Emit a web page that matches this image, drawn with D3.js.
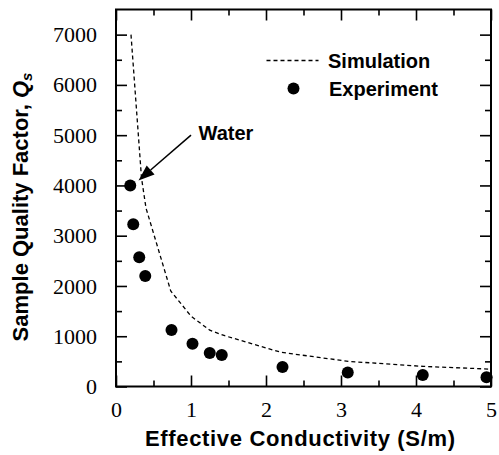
<!DOCTYPE html>
<html>
<head>
<meta charset="utf-8">
<script src="https://cdn.jsdelivr.net/npm/d3@7"></script>
<style>
  body { margin: 0; background: #fff; }
  .tick text { font-family: "Liberation Serif", "Times New Roman", serif; font-size: 22px; fill: #000; }
  .title { font-family: "Liberation Sans", Arial, sans-serif; font-weight: bold; fill: #000; }
</style>
</head>
<body>
<div id="chart"></div>
<script>
// experiment points
var expX = [0.19, 0.23, 0.31, 0.39, 0.74, 1.02, 1.25, 1.41, 2.22, 3.09, 4.09, 4.94];
var expQ = [4000, 3230, 2570, 2200, 1125, 850, 665, 625, 390, 280, 230, 185];

// simulation curve
var simX = [0.2, 0.34, 0.40, 0.73, 1.0, 1.25, 1.45, 2.2, 3.1, 4.1, 5.0];
var simQ = [7000, 4150, 3550, 1900, 1400, 1120, 1010, 680, 500, 400, 345];

var xTicks = [0, 1, 2, 3, 4, 5];
var yTicks = [0, 1000, 2000, 3000, 4000, 5000, 6000, 7000];

var W = 499, H = 455;
var pl = 116, pr = 491, pt = 9.5, pb = 386.5;

var x = d3.scaleLinear().domain([0, 5]).range([pl, pr]);
var y = d3.scaleLinear().domain([0, 7500]).range([pb, pt]);

var svg = d3.select("#chart").append("svg")
  .attr("width", W)
  .attr("height", H);

// ticks, all sides, pointing inward
function minorX(a) { return a.tickValues(d3.range(0.5, 5, 1)).tickFormat(""); }
function minorY(a) { return a.tickValues(d3.range(500, 7500, 1000)).tickFormat(""); }

svg.append("g").attr("transform", "translate(0," + pb + ")")
  .call(d3.axisBottom(x).tickValues(xTicks).tickSize(-11).tickPadding(15).tickFormat(d3.format("d")));
svg.append("g").attr("transform", "translate(0," + pb + ")")
  .call(minorX(d3.axisBottom(x)).tickSize(-6));
svg.append("g").attr("transform", "translate(0," + pt + ")")
  .call(d3.axisTop(x).tickValues(xTicks).tickSize(-11).tickFormat(""));
svg.append("g").attr("transform", "translate(0," + pt + ")")
  .call(minorX(d3.axisTop(x)).tickSize(-6));

svg.append("g").attr("transform", "translate(" + pl + ",0)")
  .call(d3.axisLeft(y).tickValues(yTicks).tickSize(-11).tickPadding(19).tickFormat(d3.format("d")));
svg.append("g").attr("transform", "translate(" + pl + ",0)")
  .call(minorY(d3.axisLeft(y)).tickSize(-6));
svg.append("g").attr("transform", "translate(" + pr + ",0)")
  .call(d3.axisRight(y).tickValues(yTicks).tickSize(-11).tickFormat(""));
svg.append("g").attr("transform", "translate(" + pr + ",0)")
  .call(minorY(d3.axisRight(y)).tickSize(-6));

svg.selectAll(".domain").remove();
svg.selectAll(".tick line").attr("stroke", "#000").attr("stroke-width", 1.6);

// frame
svg.append("rect")
  .attr("x", pl).attr("y", pt)
  .attr("width", pr - pl).attr("height", pb - pt)
  .attr("fill", "none").attr("stroke", "#000").attr("stroke-width", 2);

// simulation line
var line = d3.line()
  .x(function(d, i) { return x(simX[i]); })
  .y(function(d) { return y(d); });

svg.append("path")
  .datum(simQ)
  .attr("d", line)
  .attr("fill", "none")
  .attr("stroke", "#000")
  .attr("stroke-width", 1.3)
  .attr("stroke-dasharray", "4,3");

// experiment dots
svg.selectAll(".dot")
  .data(expQ).enter()
  .append("circle")
  .attr("cx", function(d, i) { return x(expX[i]); })
  .attr("cy", function(d) { return y(d); })
  .attr("r", 6)
  .attr("fill", "#000");

// water annotation
var tail = [x(1.0), y(5000)], tip = [x(0.30), y(4100)];
var ang = Math.atan2(tip[1] - tail[1], tip[0] - tail[0]);
var headLen = 16, headW = 6;
var bx = tip[0] - headLen * Math.cos(ang), by = tip[1] - headLen * Math.sin(ang);
svg.append("line")
  .attr("x1", tail[0]).attr("y1", tail[1])
  .attr("x2", bx).attr("y2", by)
  .attr("stroke", "#000").attr("stroke-width", 1.5);
svg.append("path")
  .attr("d", "M" + tip[0] + "," + tip[1] +
    "L" + (bx + headW * Math.sin(ang)) + "," + (by - headW * Math.cos(ang)) +
    "L" + (bx - headW * Math.sin(ang)) + "," + (by + headW * Math.cos(ang)) + "Z")
  .attr("fill", "#000");
svg.append("text")
  .attr("class", "title")
  .attr("x", x(1.1)).attr("y", y(4900))
  .style("font-size", "20px")
  .text("Water");

// legend
svg.append("line")
  .attr("x1", 266.5).attr("x2", 318.5).attr("y1", 60.5).attr("y2", 60.5)
  .attr("stroke", "#000").attr("stroke-width", 1.3).attr("stroke-dasharray", "4,3");
svg.append("text").attr("class", "title")
  .attr("x", 328).attr("y", 68).style("font-size", "20px").text("Simulation");
svg.append("circle").attr("cx", 293.5).attr("cy", 88.5).attr("r", 6).attr("fill", "#000");
svg.append("text").attr("class", "title")
  .attr("x", 329).attr("y", 95.5).style("font-size", "20px").text("Experiment");

// axis titles
svg.append("text").attr("class", "title")
  .attr("x", 300).attr("y", 446)
  .attr("text-anchor", "middle")
  .attr("textLength", 310)
  .attr("lengthAdjust", "spacing")
  .style("font-size", "22px")
  .text("Effective Conductivity (S/m)");

var yt = svg.append("text").attr("class", "title")
  .attr("text-anchor", "middle")
  .attr("transform", "translate(28,207) rotate(-90)")
  .style("font-size", "22px");
yt.append("tspan").text("Sample Quality Factor, ");
yt.append("tspan").style("font-style", "italic").text("Q");
yt.append("tspan").style("font-style", "italic").style("font-size", "15px")
  .attr("dy", 4).text("s");
</script>
</body>
</html>
